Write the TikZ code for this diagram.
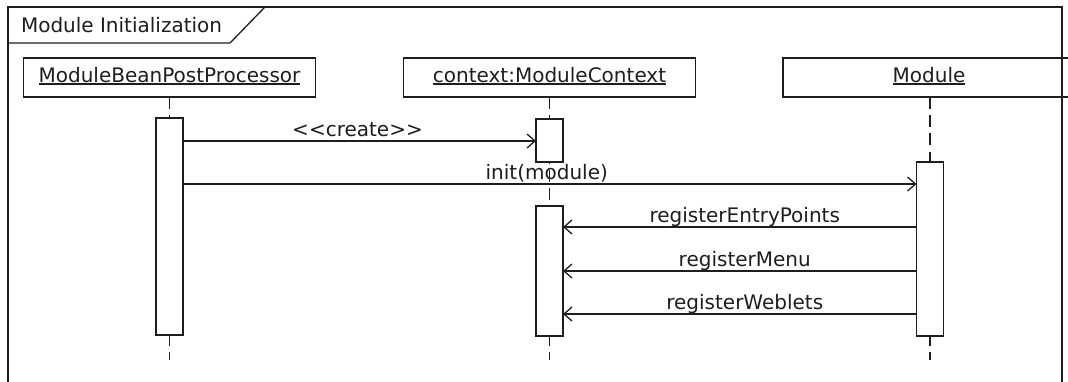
\documentclass[tikz,border=0pt]{standalone}
\usepackage{fontspec}
\setmainfont{DejaVu Sans}
\usetikzlibrary{arrows.meta}
\definecolor{ink}{HTML}{1E1E1E}
\begin{document}
\begin{tikzpicture}[x=1pt,y=-1pt,
  every node/.style={font=\fontsize{20}{24}\selectfont, text=ink, inner sep=0pt, outer sep=0pt},
  objbox/.style={draw=ink, line width=1.3pt, minimum height=39pt, minimum width=292pt},
  actbar/.style={draw=ink, line width=1.3pt, fill=white, minimum width=27pt, anchor=north},
  lifeline/.style={draw=ink, line width=1.4pt, dash pattern=on 12pt off 6.2pt},
  frameline/.style={draw=ink, line width=1.3pt},
  msg/.style={draw=ink, line width=1.3pt, -{Straight Barb[length=8pt,width=14pt]}},
  msgtext/.style={pos=0.5, anchor=base, yshift=5pt},
  uline/.style={draw=ink, line width=1.2pt}
]
\clip (0,0) rectangle (1068,381);
\fill[white] (0,0) rectangle (1068,381);

% frame title tab
\draw[frameline] (8,43) -- (230,43) -- (265,7);
\node[anchor=base west] (title) at (21,32) {Module Initialization};

% participants
\node[objbox] (o1) at (169.5,77.5) {};
\node[objbox] (o2) at (549.5,77.5) {};
\node[objbox, minimum width=294pt] (o3) at (930,77.5) {};
\node[anchor=base] (n1) at (169.5,82) {ModuleBeanPostProcessor};
\node[anchor=base] (n2) at (549.5,82) {context:ModuleContext};
\node[anchor=base] (n3) at (929,82) {Module};
\foreach \n in {n1,n2,n3}
  \draw[uline] ([yshift=-2pt]\n.base west) -- ([yshift=-2pt]\n.base east);

% lifelines
\draw[lifeline] (o1.south) -- ++(0,263);
\draw[lifeline] (o2.south) -- ++(0,263);
\draw[lifeline] (o3.south) -- ++(0,263);

% activations
\node[actbar, minimum height=217pt] (b1)  at (169.5,118) {};
\node[actbar, minimum height=43pt]  (b2a) at (549.5,119) {};
\node[actbar, minimum height=130pt] (b2b) at (549.5,206) {};
\node[actbar, minimum height=174pt] (b3)  at (930,162) {};

% messages
\coordinate (m1) at (0,141);
\coordinate (m2) at (0,184);
\coordinate (m3) at (0,227);
\coordinate (m4) at (0,271);
\coordinate (m5) at (0,314);
\draw[msg] (b1.east |- m1) -- node[msgtext, xshift=-2pt] {<\kern0pt<create>\kern0pt>} (b2a.west |- m1);
\draw[msg] (b1.east |- m2) -- node[msgtext, xshift=-3pt] {init(module)} (b3.west |- m2);
\draw[msg] (b3.west |- m3) -- node[msgtext, xshift=5pt] {registerEntryPoints} (b2b.east |- m3);
\draw[msg] (b3.west |- m4) -- node[msgtext, xshift=5pt] {registerMenu} (b2b.east |- m4);
\draw[msg] (b3.west |- m5) -- node[msgtext, xshift=5pt] {registerWeblets} (b2b.east |- m5);

% outer frame
\draw[frameline] (8,7) rectangle (1062,400);
\end{tikzpicture}
\end{document}
